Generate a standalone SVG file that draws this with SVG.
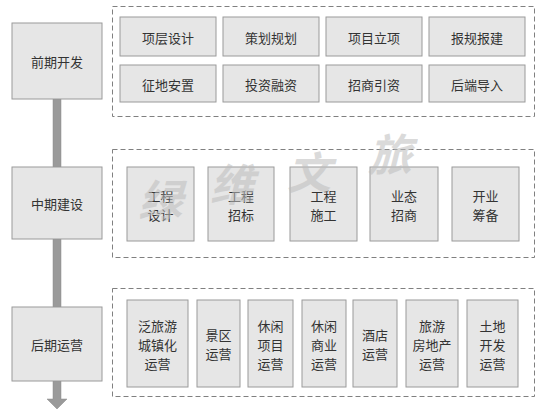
<svg xmlns="http://www.w3.org/2000/svg" width="555" height="412" viewBox="0 0 555 412">
<style>
.bg{fill:#ffffff}
.node{fill:#e6e6e6;stroke:#9a9a9a;stroke-width:1}
.grp{fill:none;stroke:#808080;stroke-width:1;stroke-dasharray:5,3}
.t{font-family:"Noto Sans CJK SC","Noto Sans",sans-serif;font-size:13px;fill:#333333;text-anchor:middle;dominant-baseline:central}
.wm{font-family:"Noto Sans CJK SC",sans-serif;font-size:44px;font-weight:bold;fill:#bdbdbd;opacity:0.55;text-anchor:middle;dominant-baseline:central;font-style:italic}
.bar{fill:#9a9a9a;stroke:#8a8a8a;stroke-width:0.5}
</style>
<rect class="bg" x="0" y="0" width="555" height="412"/>
<g id="connectors">
<rect class="bar" x="53" y="99" width="8" height="68"/>
<rect class="bar" x="53" y="239" width="8" height="68"/>
<path class="bar" d="M53,381 H61 V399 H67 L57,409 L47,399 H53 Z"/>
</g>
<g id="stage1">
<rect class="node" x="12" y="23" width="90" height="76"/>
<text class="t" x="57" y="61">前期开发</text>
</g>
<g id="stage2">
<rect class="node" x="12" y="167" width="90" height="72"/>
<text class="t" x="57" y="203">中期建设</text>
</g>
<g id="stage3">
<rect class="node" x="12" y="307" width="90" height="74"/>
<text class="t" x="57" y="344">后期运营</text>
</g>
<g id="group1">
<rect class="grp" x="112.5" y="6.5" width="422" height="110"/>
<g id="g1a"><rect class="node" x="120" y="17" width="96" height="39"/><text class="t" x="168" y="37">项层设计</text></g>
<g id="g1b"><rect class="node" x="223" y="17" width="96" height="39"/><text class="t" x="271" y="37">策划规划</text></g>
<g id="g1c"><rect class="node" x="326" y="17" width="96" height="39"/><text class="t" x="374" y="37">项目立项</text></g>
<g id="g1d"><rect class="node" x="429" y="17" width="96" height="39"/><text class="t" x="477" y="37">报规报建</text></g>
<g id="g1e"><rect class="node" x="120" y="65" width="96" height="37"/><text class="t" x="168" y="84">征地安置</text></g>
<g id="g1f"><rect class="node" x="223" y="65" width="96" height="37"/><text class="t" x="271" y="84">投资融资</text></g>
<g id="g1g"><rect class="node" x="326" y="65" width="96" height="37"/><text class="t" x="374" y="84">招商引资</text></g>
<g id="g1h"><rect class="node" x="429" y="65" width="96" height="37"/><text class="t" x="477" y="84">后端导入</text></g>
</g>
<g id="group2">
<rect class="grp" x="112.5" y="149.5" width="422" height="108"/>
<g id="g2a"><rect class="node" x="127" y="167" width="67" height="74"/><text class="t" x="160.5" y="195">工程</text><text class="t" x="160.5" y="214">设计</text></g>
<g id="g2b"><rect class="node" x="208" y="167" width="66" height="74"/><text class="t" x="241" y="195">工程</text><text class="t" x="241" y="214">招标</text></g>
<g id="g2c"><rect class="node" x="290" y="167" width="67" height="74"/><text class="t" x="323.5" y="195">工程</text><text class="t" x="323.5" y="214">施工</text></g>
<g id="g2d"><rect class="node" x="370" y="167" width="68" height="74"/><text class="t" x="404" y="195">业态</text><text class="t" x="404" y="214">招商</text></g>
<g id="g2e"><rect class="node" x="452" y="167" width="67" height="74"/><text class="t" x="485.5" y="195">开业</text><text class="t" x="485.5" y="214">筹备</text></g>
</g>
<g id="group3">
<rect class="grp" x="112.5" y="288.5" width="422" height="108"/>
<g id="g3a"><rect class="node" x="127" y="300" width="61" height="87"/><text class="t" x="157.5" y="325">泛旅游</text><text class="t" x="157.5" y="344">城镇化</text><text class="t" x="157.5" y="363">运营</text></g>
<g id="g3b"><rect class="node" x="197" y="300" width="43" height="87"/><text class="t" x="218.5" y="334">景区</text><text class="t" x="218.5" y="353">运营</text></g>
<g id="g3c"><rect class="node" x="248" y="300" width="45" height="87"/><text class="t" x="270.5" y="325">休闲</text><text class="t" x="270.5" y="344">项目</text><text class="t" x="270.5" y="363">运营</text></g>
<g id="g3d"><rect class="node" x="302" y="300" width="44" height="87"/><text class="t" x="324" y="325">休闲</text><text class="t" x="324" y="344">商业</text><text class="t" x="324" y="363">运营</text></g>
<g id="g3e"><rect class="node" x="353" y="300" width="44" height="87"/><text class="t" x="375" y="334">酒店</text><text class="t" x="375" y="353">运营</text></g>
<g id="g3f"><rect class="node" x="406" y="300" width="52" height="87"/><text class="t" x="432" y="325">旅游</text><text class="t" x="432" y="344">房地产</text><text class="t" x="432" y="363">运营</text></g>
<g id="g3g"><rect class="node" x="467" y="300" width="51" height="87"/><text class="t" x="492.5" y="325">土地</text><text class="t" x="492.5" y="344">开发</text><text class="t" x="492.5" y="363">运营</text></g>
</g>
<g id="watermark">
<text class="wm" x="160" y="198">绿</text>
<text class="wm" x="232" y="182">维</text>
<text class="wm" x="309" y="170">文</text>
<text class="wm" x="390" y="152">旅</text>
</g>
</svg>
